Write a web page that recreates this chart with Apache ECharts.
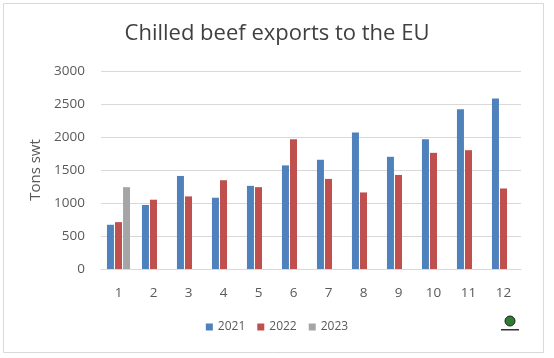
<!DOCTYPE html>
<html>
<head>
<meta charset="utf-8">
<script src="https://cdn.jsdelivr.net/npm/echarts@6/dist/echarts.min.js"></script>
<style>
html,body{margin:0;padding:0;background:#fff;}
#chart{width:554px;height:358px;}
</style>
</head>
<body>
<div id="chart"></div>
<script>
var months = ['1','2','3','4','5','6','7','8','9','10','11','12'];
var exports2021 = [670, 970, 1410, 1080, 1260, 1570, 1655, 2070, 1700, 1965, 2420, 2585];
var exports2022 = [710, 1050, 1100, 1345, 1240, 1965, 1365, 1160, 1425, 1760, 1800, 1220];
var exports2023 = [1240, null, null, null, null, null, null, null, null, null, null, null];
var yTicks = [0, 500, 1000, 1500, 2000, 2500, 3000];

var chart = echarts.init(document.getElementById('chart'));
var font = 'Open Sans, Noto Sans, sans-serif';
chart.setOption({
  animation: false,
  title: {
    text: 'Chilled beef exports to the EU',
    left: 'center',
    top: 18,
    textStyle: {fontFamily: font, fontSize: 22, fontWeight: 'normal', color: '#404040'}
  },
  legend: {
    top: 316,
    left: 'center',
    itemWidth: 7,
    itemHeight: 7,
    itemGap: 12,
    icon: 'rect',
    textStyle: {fontFamily: font, fontSize: 12, color: '#595959'},
    data: ['2021', '2022', '2023']
  },
  grid: {left: 101, right: 33, top: 71, bottom: 89, containLabel: false},
  xAxis: {
    type: 'category',
    data: months,
    axisTick: {show: false},
    axisLine: {lineStyle: {color: '#d9d9d9'}},
    axisLabel: {fontFamily: font, fontSize: 13.5, color: '#595959', margin: 17}
  },
  yAxis: {
    type: 'value',
    min: yTicks[0],
    max: yTicks[yTicks.length - 1],
    interval: 500,
    name: 'Tons swt',
    nameLocation: 'middle',
    nameGap: 47,
    nameTextStyle: {fontFamily: font, fontSize: 15, color: '#595959'},
    axisLabel: {fontFamily: font, fontSize: 13.5, color: '#595959', margin: 16, formatter: function (v) { return String(v); }},
    splitLine: {lineStyle: {color: '#d9d9d9'}}
  },
  series: [
    {name: '2021', type: 'bar', data: exports2021, barWidth: 7, barGap: '15%', itemStyle: {color: '#4f81bd'}},
    {name: '2022', type: 'bar', data: exports2022, barWidth: 7, barGap: '15%', itemStyle: {color: '#c0504d'}},
    {name: '2023', type: 'bar', data: exports2023, barWidth: 7, barGap: '15%', itemStyle: {color: '#a5a5a5'}}
  ],
  graphic: [
    {type: 'rect', shape: {x: 3.5, y: 3.5, width: 540, height: 349}, style: {fill: 'none', stroke: '#d9d9d9', lineWidth: 1}, silent: true},
    {type: 'circle', shape: {cx: 510, cy: 321, r: 5}, style: {fill: '#2e7d32', stroke: '#222', lineWidth: 1}},
    {type: 'rect', shape: {x: 501, y: 329, width: 18, height: 1.5}, style: {fill: '#333'}}
  ]
});
</script>
</body>
</html>
